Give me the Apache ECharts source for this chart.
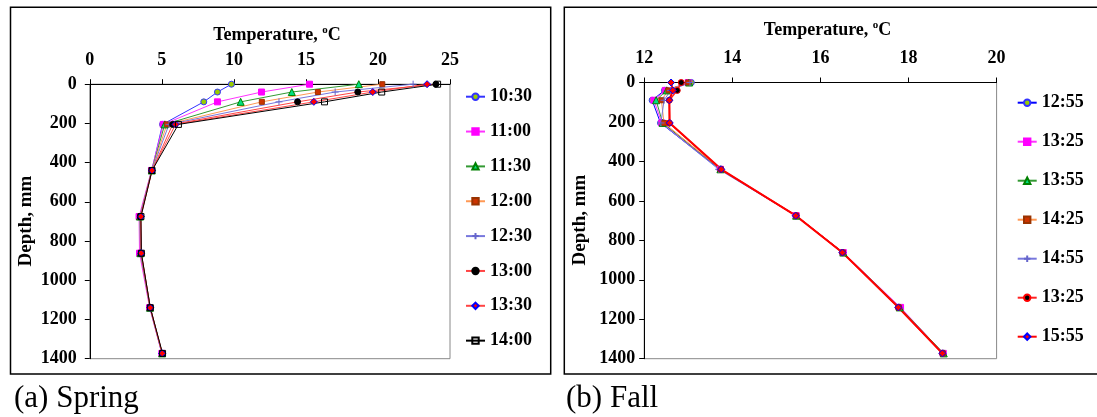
<!DOCTYPE html>
<html>
<head>
<meta charset="utf-8">
<script src="https://cdn.jsdelivr.net/npm/echarts@6/dist/echarts.min.js"></script>
<style>
html,body{margin:0;padding:0;background:#fff;}
#chart{width:1097px;height:417px;}
</style>
</head>
<body>
<div id="chart"></div>
<script>
// ---------- data ----------
const depths = [0, 40, 90, 205, 440, 675, 862, 1140, 1373];
const depthTicks = [0, 200, 400, 600, 800, 1000, 1200, 1400];

const springNames = ['10:30', '11:00', '11:30', '12:00', '12:30', '13:00', '13:30', '14:00'];
const spring1030 = [9.83, 8.86, 7.91, 5.05, 4.30, 3.50, 3.55, 4.18, 5.00];
const spring1100 = [15.25, 11.92, 8.86, 5.10, 4.28, 3.42, 3.45, 4.15, 5.00];
const spring1130 = [18.67, 14.02, 10.47, 5.20, 4.30, 3.48, 3.52, 4.18, 5.02];
const spring1200 = [20.30, 15.83, 11.94, 5.35, 4.30, 3.50, 3.55, 4.18, 5.02];
const spring1230 = [22.44, 17.03, 13.13, 5.50, 4.30, 3.50, 3.55, 4.20, 5.02];
const spring1300 = [24.02, 18.60, 14.42, 5.75, 4.32, 3.52, 3.57, 4.20, 5.03];
const spring1330 = [23.41, 19.64, 15.55, 5.95, 4.32, 3.55, 3.57, 4.20, 5.03];
const spring1400 = [24.14, 20.26, 16.29, 6.15, 4.32, 3.55, 3.58, 4.20, 5.05];

const fallNames = ['12:55', '13:25', '13:55', '14:25', '14:55', '13:25 ', '15:55'];
const fall1255 = [13.07, 12.46, 12.18, 12.37, 13.72, 15.44, 16.50, 17.77, 18.77];
const fall1325a = [13.00, 12.48, 12.22, 12.40, 13.73, 15.45, 16.52, 17.82, 18.79];
const fall1355 = [13.02, 12.51, 12.27, 12.42, 13.73, 15.45, 16.52, 17.80, 18.80];
const fall1425 = [13.00, 12.55, 12.39, 12.45, 13.74, 15.45, 16.51, 17.78, 18.78];
const fall1455 = [13.04, 12.60, 12.45, 12.38, 13.69, 15.44, 16.50, 17.77, 18.77];
const fall1325b = [12.84, 12.75, 12.57, 12.57, 13.74, 15.45, 16.50, 17.77, 18.77];
const fall1555 = [12.61, 12.65, 12.57, 12.58, 13.75, 15.44, 16.50, 17.77, 18.77];

const springTempTicks = [0, 5, 10, 15, 20, 25];
const fallTempTicks = [12, 14, 16, 18, 20];

// ---------- styles ----------
const FONT = 'Liberation Serif, Times New Roman, serif';
const plusPath = 'path://M0,5 L10,5 M5,0 L5,10';
const springStyles = [
  {line:'#3333FF', symbol:'circle', fill:'#99CC00', border:'#3333FF', size:6, lw:1},
  {line:'#FF33FF', symbol:'rect', fill:'#FF00FF', border:'#FF00FF', size:6, lw:1},
  {line:'#339933', symbol:'triangle', fill:'#00E080', border:'#008000', size:7, lw:1},
  {line:'#FF9955', symbol:'rect', fill:'#CC3300', border:'#993300', size:5, lw:1},
  {line:'#7777DD', symbol:plusPath, fill:'#6666CC', border:'#6666CC', size:7, lw:1},
  {line:'#FF4444', symbol:'circle', fill:'#000000', border:'#000000', size:6, lw:1},
  {line:'#FF4444', symbol:'diamond', fill:'#FF0000', border:'#0000FF', size:7, lw:1},
  {line:'#000000', symbol:'rect', fill:'rgba(255,255,255,0)', border:'#000000', size:6, lw:1}
];
const fallStyles = [
  {line:'#0000FF', symbol:'circle', fill:'#99CC00', border:'#3333FF', size:6, lw:1},
  {line:'#FF33FF', symbol:'rect', fill:'#FF00FF', border:'#FF00FF', size:6, lw:1},
  {line:'#339933', symbol:'triangle', fill:'#00E080', border:'#008000', size:7, lw:1},
  {line:'#FF9955', symbol:'rect', fill:'#CC3300', border:'#993300', size:5, lw:1},
  {line:'#7777DD', symbol:plusPath, fill:'#6666CC', border:'#6666CC', size:7, lw:1},
  {line:'#FF2222', symbol:'circle', fill:'#000000', border:'#FF0000', size:6, lw:1.5},
  {line:'#FF0000', symbol:'diamond', fill:'#FF0000', border:'#0000FF', size:7, lw:2}
];

const springData = [spring1030, spring1100, spring1130, spring1200, spring1230, spring1300, spring1330, spring1400];
const fallData = [fall1255, fall1325a, fall1355, fall1425, fall1455, fall1325b, fall1555];

function makeSeries(names, datas, styles, axisIndex) {
  return names.map((n, i) => {
    const s = styles[i];
    return {
      type: 'line', name: n,
      xAxisIndex: axisIndex, yAxisIndex: axisIndex,
      data: datas[i].map((t, k) => [t, depths[k]]),
      symbol: s.symbol, symbolSize: s.size,
      lineStyle: {color: s.line, width: s.lw},
      itemStyle: {color: s.fill, borderColor: s.border, borderWidth: 1},
      emphasis: {disabled: true},
      animation: false
    };
  });
}

const axisLabelStyle = {fontFamily: FONT, fontWeight: 'bold', fontSize: 18, color: '#000', formatter: v => String(v)};

function xAxisCfg(gridIndex, ticks) {
  return {
    type: 'value', gridIndex, position: 'top',
    min: ticks[0], max: ticks[ticks.length - 1], interval: ticks[1] - ticks[0],
    axisLine: {show: true, onZero: false, lineStyle: {color: '#000', width: 1}},
    axisTick: {show: true, inside: false, length: 5, lineStyle: {color: '#000'}},
    axisLabel: Object.assign({margin: 15}, axisLabelStyle),
    splitLine: {show: false}
  };
}
function yAxisCfg(gridIndex, margin) {
  return {
    type: 'value', gridIndex, inverse: true,
    min: depthTicks[0], max: depthTicks[depthTicks.length - 1], interval: depthTicks[1] - depthTicks[0],
    axisLine: {show: true, onZero: false, lineStyle: {color: '#000', width: 1}},
    axisTick: {show: true, inside: false, length: 5, lineStyle: {color: '#000'}},
    axisLabel: Object.assign({margin: margin}, axisLabelStyle),
    splitLine: {show: false}
  };
}

const titleRich = {
  b: {fontFamily: FONT, fontWeight: 'bold', fontSize: 18, fill: '#000'},
  sup: {fontFamily: FONT, fontWeight: 'bold', fontSize: 11, fill: '#000', padding: [0, 0, 9, 0]}
};

function textEl(x, y, text, opts) {
  return Object.assign({
    type: 'text', x, y, silent: true,
    style: Object.assign({text, fill: '#000', fontFamily: FONT, align: 'center', verticalAlign: 'middle'}, opts.style || {})
  }, opts.el || {});
}

const legendText = {fontFamily: FONT, fontWeight: 'bold', fontSize: 18, lineHeight: 20, color: '#000'};

const chart = echarts.init(document.getElementById('chart'), null, {renderer: 'canvas'});
chart.setOption({
  animation: false,
  backgroundColor: '#fff',
  grid: [
    {left: 89.8, top: 84.2, width: 360.2, height: 274.5, show: true, borderColor: '#888', borderWidth: 1},
    {left: 644.2, top: 82.5, width: 352.4, height: 276.2, show: true, borderColor: '#888', borderWidth: 1}
  ],
  xAxis: [xAxisCfg(0, springTempTicks), xAxisCfg(1, fallTempTicks)],
  yAxis: [yAxisCfg(0, 13), yAxisCfg(1, 9)],
  legend: [
    {data: springNames, orient: 'vertical', left: 465, top: 86.7, padding: 0, itemWidth: 19, itemHeight: 8, itemGap: 14.85,
     selectedMode: false, textStyle: legendText},
    {data: fallNames, orient: 'vertical', left: 1016.7, top: 92.7, padding: 0, itemWidth: 19, itemHeight: 8, itemGap: 19,
     selectedMode: false, textStyle: legendText}
  ],
  graphic: [
    {type: 'rect', silent: true, shape: {x: 10.5, y: 7.3, width: 540.2, height: 366.7}, style: {fill: 'none', stroke: '#000', lineWidth: 1.5}},
    {type: 'rect', silent: true, shape: {x: 564.3, y: 7.3, width: 540, height: 366.7}, style: {fill: 'none', stroke: '#000', lineWidth: 1.5}},
    textEl(277, 35, '{b|Temperature, }{sup|o}{b|C}', {style: {rich: titleRich}}),
    textEl(827.6, 30, '{b|Temperature, }{sup|o}{b|C}', {style: {rich: titleRich}}),
    textEl(26.3, 221, 'Depth, mm', {style: {fontWeight: 'bold', fontSize: 19}, el: {rotation: Math.PI / 2}}),
    textEl(580.5, 220, 'Depth, mm', {style: {fontWeight: 'bold', fontSize: 19}, el: {rotation: Math.PI / 2}}),
    textEl(14, 399, '(a) Spring', {style: {fontSize: 31, align: 'left'}}),
    textEl(566, 399, '(b) Fall', {style: {fontSize: 31, align: 'left'}})
  ],
  series: makeSeries(springNames, springData, springStyles, 0).concat(makeSeries(fallNames, fallData, fallStyles, 1))
});
</script>
</body>
</html>
